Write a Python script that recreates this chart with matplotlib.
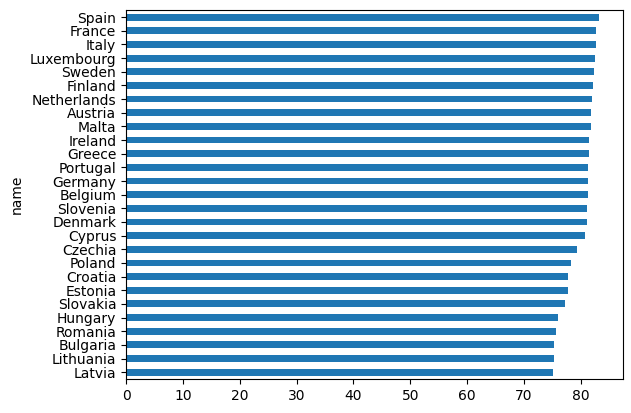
import matplotlib
matplotlib.use("Agg")
import matplotlib.pyplot as plt
import pandas as pd

# life expectancy per country
names = ["Latvia", "Lithuania", "Bulgaria", "Romania", "Hungary", "Slovakia",
         "Estonia", "Croatia", "Poland", "Czechia", "Cyprus", "Denmark",
         "Slovenia", "Belgium", "Germany", "Portugal", "Greece", "Ireland",
         "Malta", "Austria", "Netherlands", "Finland", "Sweden", "Luxembourg",
         "Italy", "France", "Spain"]
values = [75.1, 75.3, 75.3, 75.7, 76.0, 77.2,
          77.8, 77.8, 78.3, 79.4, 80.8, 81.1,
          81.1, 81.3, 81.3, 81.3, 81.5, 81.5,
          81.8, 81.8, 82.0, 82.1, 82.3, 82.5,
          82.7, 82.7, 83.2]

df = pd.DataFrame({"name": names, "value": values})

fig = plt.figure(figsize=(6.31, 4.13), dpi=100)
ax = fig.add_axes([0.1997, 0.0823, 0.7871, 0.8927])
df.plot.barh(x="name", y="value", ax=ax, legend=False)

fig.savefig("out.png", dpi=100)
